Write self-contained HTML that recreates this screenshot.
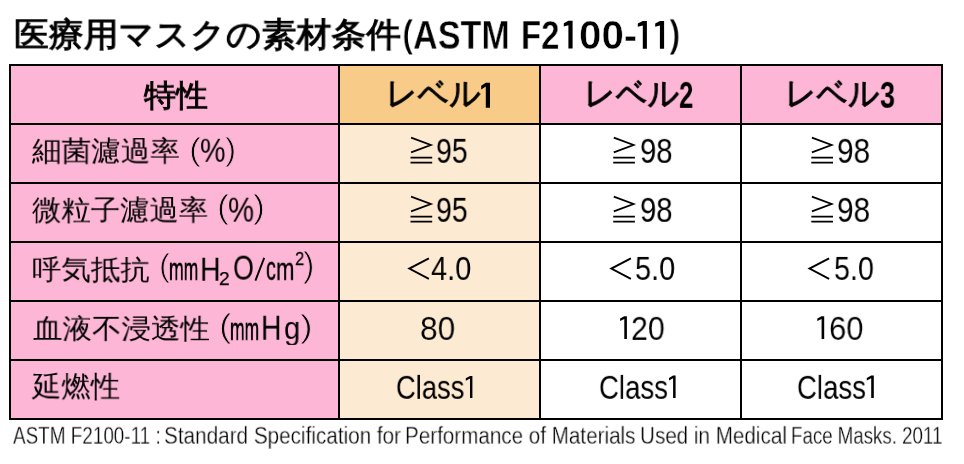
<!DOCTYPE html>
<html lang="ja"><head><meta charset="utf-8">
<style>
html,body{margin:0;padding:0;background:#fff;width:964px;height:464px;overflow:hidden;}
body{position:relative;font-family:"Liberation Sans",sans-serif;color:#000;}
.bg{position:absolute;}
.h{position:absolute;background:#000;height:2px;left:9px;width:934px;}
.v{position:absolute;background:#000;width:2px;top:64px;height:356px;}
.t{position:absolute;white-space:nowrap;line-height:1;transform-origin:0 0;will-change:transform;}
svg{position:absolute;left:0;top:0;}
</style></head><body>
<div class="bg" style="left:11px;top:66px;width:327px;height:352px;background:#fdb6d5"></div>
<div class="bg" style="left:340px;top:66px;width:199px;height:57px;background:#f8cb88"></div>
<div class="bg" style="left:340px;top:125px;width:199px;height:293px;background:#fdead2"></div>
<div class="bg" style="left:541px;top:66px;width:400px;height:57px;background:#fdb6d5"></div>
<div class="h" style="top:64px"></div>
<div class="h" style="top:123px"></div>
<div class="h" style="top:182px"></div>
<div class="h" style="top:241px"></div>
<div class="h" style="top:300px"></div>
<div class="h" style="top:359px"></div>
<div class="h" style="top:418px"></div>
<div class="v" style="left:9px"></div>
<div class="v" style="left:338px"></div>
<div class="v" style="left:539px"></div>
<div class="v" style="left:740px"></div>
<div class="v" style="left:941px"></div>
<div class="t" style="left:13.96px;top:18.43px;font-size:36px;-webkit-text-stroke:1.1px #000;transform:scale(0.9675,0.9324);">医療用マスクの素材条件</div>
<div class="t" style="left:402.13px;top:14.85px;font-size:40px;font-weight:bold;-webkit-text-stroke:1.2px #ffffff;transform:scale(0.8556,0.9500);">(</div>
<div class="t" style="left:412.99px;top:14.84px;font-size:40px;font-weight:bold;-webkit-text-stroke:0.5px #ffffff;transform:scale(0.8546,0.9929);">ASTM</div>
<div class="t" style="left:521.33px;top:14.60px;font-size:40px;font-weight:bold;-webkit-text-stroke:0.5px #ffffff;transform:scale(0.8238,1.0000);">F2</div>
<div class="t" style="left:578.69px;top:14.03px;font-size:40px;font-weight:bold;-webkit-text-stroke:0.5px #ffffff;transform:scale(1.0074,1.0286);">00-</div>
<div class="t" style="left:669.17px;top:14.94px;font-size:40px;font-weight:bold;-webkit-text-stroke:1.2px #ffffff;transform:scale(0.8667,0.9528);">)</div>
<div class="t" style="left:144.20px;top:79.90px;font-size:32px;-webkit-text-stroke:0.9px #000;transform:scale(1.0000,0.9594);">特性</div>
<div class="t" style="left:385.87px;top:76.38px;font-size:32px;-webkit-text-stroke:0.9px #000;transform:scale(0.9564,1.0538);">レベル</div>
<div class="t" style="left:583.95px;top:76.38px;font-size:32px;-webkit-text-stroke:0.9px #000;transform:scale(0.9617,1.0538);">レベル</div>
<div class="t" style="left:678.75px;top:76.61px;font-size:34px;font-weight:bold;transform:scale(0.7529,1.0652);">2</div>
<div class="t" style="left:785.39px;top:76.38px;font-size:32px;-webkit-text-stroke:0.9px #000;transform:scale(0.9532,1.0538);">レベル</div>
<div class="t" style="left:880.11px;top:76.28px;font-size:34px;font-weight:bold;transform:scale(0.7941,1.0870);">3</div>
<div class="t" style="left:32.00px;top:137.30px;font-size:30px;transform:scale(0.9866,0.9448);">細菌濾過率</div>
<div class="t" style="left:189.10px;top:132.72px;font-size:30px;-webkit-text-stroke:0.8px #fdb6d5;transform:scale(1.2000,1.0692);">(</div>
<div class="t" style="left:199.84px;top:134.33px;font-size:30px;transform:scale(0.9560,1.1150);">%</div>
<div class="t" style="left:225.07px;top:132.72px;font-size:30px;-webkit-text-stroke:0.8px #fdb6d5;transform:scale(1.1167,1.0692);">)</div>
<div class="t" style="left:32.00px;top:196.30px;font-size:30px;transform:scale(0.9793,0.9448);">微粒子濾過率</div>
<div class="t" style="left:217.40px;top:191.49px;font-size:30px;-webkit-text-stroke:0.8px #fdb6d5;transform:scale(1.2000,1.0769);">(</div>
<div class="t" style="left:228.12px;top:192.58px;font-size:30px;transform:scale(0.9760,1.1650);">%</div>
<div class="t" style="left:253.20px;top:191.49px;font-size:30px;-webkit-text-stroke:0.8px #fdb6d5;transform:scale(1.2000,1.0769);">)</div>
<div class="t" style="left:32.22px;top:256.00px;font-size:30px;transform:scale(0.9814,0.9207);">呼気抵抗</div>
<div class="t" style="left:158.80px;top:250.37px;font-size:30px;-webkit-text-stroke:0.8px #fdb6d5;transform:scale(1.1000,1.0577);">(</div>
<div class="t" style="left:169.23px;top:253.08px;font-size:30px;-webkit-text-stroke:0.6px #000;transform:scale(0.5870,1.0688);">mm</div>
<div class="t" style="left:200.09px;top:251.55px;font-size:30px;transform:scale(0.9529,1.1300);">H</div>
<div class="t" style="left:218.93px;top:270.02px;font-size:18px;-webkit-text-stroke:0.25px #000;transform:scale(1.0750,0.9923);">2</div>
<div class="t" style="left:232.90px;top:251.07px;font-size:30px;transform:scale(0.8952,1.1650);">O</div>
<div class="t" style="left:265.74px;top:253.17px;font-size:30px;-webkit-text-stroke:0.35px #000;transform:scale(0.6615,1.0813);">c</div>
<div class="t" style="left:276.13px;top:253.28px;font-size:30px;-webkit-text-stroke:0.35px #000;transform:scale(0.7333,1.0688);">m</div>
<div class="t" style="left:295.47px;top:250.35px;font-size:18px;-webkit-text-stroke:0.25px #000;transform:scale(0.9250,1.0231);">2</div>
<div class="t" style="left:303.00px;top:248.85px;font-size:30px;-webkit-text-stroke:0.8px #fdb6d5;transform:scale(1.1500,1.1385);">)</div>
<div class="t" style="left:33.30px;top:315.00px;font-size:30px;transform:scale(0.9832,0.9207);">血液不浸透性</div>
<div class="t" style="left:219.30px;top:309.79px;font-size:30px;-webkit-text-stroke:0.8px #fdb6d5;transform:scale(1.2500,1.0769);">(</div>
<div class="t" style="left:229.93px;top:312.52px;font-size:30px;-webkit-text-stroke:0.6px #000;transform:scale(0.5826,1.0750);">mm</div>
<div class="t" style="left:261.01px;top:310.90px;font-size:30px;transform:scale(0.9471,1.1400);">H</div>
<div class="t" style="left:283.63px;top:312.27px;font-size:30px;transform:scale(0.9714,1.0591);">g</div>
<div class="t" style="left:299.63px;top:309.65px;font-size:30px;-webkit-text-stroke:0.8px #fdb6d5;transform:scale(1.2833,1.0615);">)</div>
<div class="t" style="left:32.40px;top:372.42px;font-size:30px;transform:scale(0.9798,0.9786);">延燃性</div>
<div class="t" style="left:436.12px;top:133.64px;font-size:32px;transform:scale(0.8906,1.0727);">95</div>
<div class="t" style="left:639.57px;top:133.64px;font-size:32px;transform:scale(0.9156,1.0727);">98</div>
<div class="t" style="left:837.34px;top:133.64px;font-size:32px;-webkit-text-stroke:0.03px #ffffff;transform:scale(0.9312,1.0727);">98</div>
<div class="t" style="left:436.12px;top:192.64px;font-size:32px;transform:scale(0.8906,1.0727);">95</div>
<div class="t" style="left:639.57px;top:192.64px;font-size:32px;transform:scale(0.9156,1.0727);">98</div>
<div class="t" style="left:837.34px;top:192.64px;font-size:32px;-webkit-text-stroke:0.03px #ffffff;transform:scale(0.9312,1.0727);">98</div>
<div class="t" style="left:431.30px;top:251.97px;font-size:32px;transform:scale(0.9048,1.0455);">4.0</div>
<div class="t" style="left:635.30px;top:251.97px;font-size:32px;transform:scale(0.9024,1.0455);">5.0</div>
<div class="t" style="left:833.51px;top:251.97px;font-size:32px;transform:scale(0.8951,1.0455);">5.0</div>
<div class="t" style="left:419.62px;top:310.93px;font-size:32px;-webkit-text-stroke:0.11px #fdead2;transform:scale(0.9906,1.0545);">80</div>
<div class="t" style="left:631.00px;top:310.68px;font-size:32px;-webkit-text-stroke:0.08px #ffffff;transform:scale(0.9500,1.0636);">20</div>
<div class="t" style="left:828.96px;top:310.68px;font-size:32px;-webkit-text-stroke:0.14px #ffffff;transform:scale(0.9719,1.0636);">60</div>
<div class="t" style="left:396.19px;top:369.54px;font-size:32px;transform:scale(0.8545,1.0652);">Class</div>
<div class="t" style="left:599.18px;top:369.54px;font-size:32px;transform:scale(0.8623,1.0652);">Class</div>
<div class="t" style="left:797.18px;top:369.54px;font-size:32px;transform:scale(0.8623,1.0652);">Class</div>
<div class="t" style="left:13.34px;top:424.40px;font-size:22px;-webkit-text-stroke:0.3px #ffffff;transform:scale(0.8586,1.1000);">ASTM F2100-11 :</div>
<div class="t" style="left:163.62px;top:424.40px;font-size:22px;-webkit-text-stroke:0.3px #ffffff;transform:scale(0.9410,1.1000);">Standard Specification for</div>
<div class="t" style="left:404.93px;top:424.40px;font-size:22px;-webkit-text-stroke:0.3px #ffffff;transform:scale(0.9374,1.1000);">Performance of Materials</div>
<div class="t" style="left:640.22px;top:424.40px;font-size:22px;-webkit-text-stroke:0.3px #ffffff;transform:scale(0.9379,1.1000);">Used in Medical</div>
<div class="t" style="left:791.10px;top:424.40px;font-size:22px;-webkit-text-stroke:0.3px #ffffff;transform:scale(0.8497,1.1000);">Face Masks. 2011</div>
<svg width="964" height="464"><g fill="none" stroke="#000" stroke-miterlimit="10">
<polyline points="411.1,137.7 430.8,145 411.1,152.3" stroke-width="1.8"/><path d="M410.5 157.6H432.2M410.5 162.6H432.2" stroke-width="1.7"/>
<polyline points="613.8,137.7 633.5,145 613.8,152.3" stroke-width="1.8"/><path d="M613.2 157.6H634.9M613.2 162.6H634.9" stroke-width="1.7"/>
<polyline points="811.9,137.7 831.6,145 811.9,152.3" stroke-width="1.8"/><path d="M811.3 157.6H833M811.3 162.6H833" stroke-width="1.7"/>
<polyline points="411.1,196.7 430.8,204 411.1,211.3" stroke-width="1.8"/><path d="M410.5 216.6H432.2M410.5 221.6H432.2" stroke-width="1.7"/>
<polyline points="613.8,196.7 633.5,204 613.8,211.3" stroke-width="1.8"/><path d="M613.2 216.6H634.9M613.2 221.6H634.9" stroke-width="1.7"/>
<polyline points="811.9,196.7 831.6,204 811.9,211.3" stroke-width="1.8"/><path d="M811.3 216.6H833M811.3 221.6H833" stroke-width="1.7"/>
<polyline points="428.9,258.3 409.3,268.6 428.9,278.9" stroke-width="1.9"/>
<polyline points="630.9,258.3 611.3,268.6 630.9,278.9" stroke-width="1.9"/>
<polyline points="829.1,258.3 809.5,268.6 829.1,278.9" stroke-width="1.9"/>
</g><g fill="#000" stroke="none">
<polygon points="490,82.8 490,107.7 485.8,107.7 485.8,86.6 481.2,89.4 481.2,85.8 485.8,82.8"/>
<polygon points="472.4,375.9 472.4,397.9 470,397.9 470,378.6 465.8,380.8 465.8,378.3 470,375.9"/>
<polygon points="675.6,375.5 675.6,397.9 673.1,397.9 673.1,378.2 669,380.4 669,377.9 673.1,375.5"/>
<polygon points="873.8,375.5 873.8,397.9 871.2,397.9 871.2,378.2 866.8,380.4 866.8,377.9 871.2,375.5"/>
<polygon points="626.9,316.2 626.9,338.9 624.3,338.9 624.3,318.9 620.1,321.1 620.1,318.6 624.3,316.2"/>
<polygon points="824.2,316.2 824.2,338.9 821.6,338.9 821.6,318.9 817.3,321.1 817.3,318.6 821.6,316.2"/>
<polygon points="572.6,20.8 572.6,48.6 568.4,48.6 568.4,25.2 563.8,26.6 563.8,23.2 568.4,20.8"/>
<polygon points="646.9,21 646.9,48.8 642.8,48.8 642.8,25.4 637.8,26.8 637.8,23.4 642.8,21"/>
<polygon points="664.1,21 664.1,48.8 659.9,48.8 659.9,25.4 655.2,26.8 655.2,23.4 659.9,21"/>
<path d="M255.4 280.6L264.2 257.8" stroke="#000" stroke-width="1.9"/>
</g></svg>
</body></html>
